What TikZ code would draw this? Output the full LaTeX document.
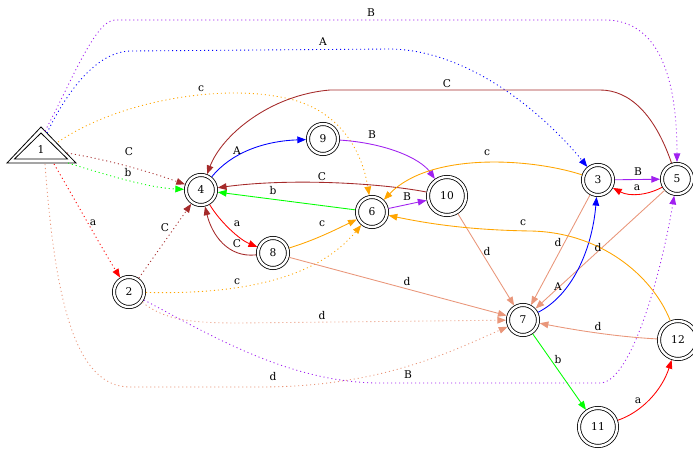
\documentclass[tikz,border=0pt]{standalone}
\usepackage{fontspec}
\setmainfont{DejaVu Serif}
\usetikzlibrary{arrows.meta,calc}
\definecolor{gvpurple}{HTML}{A020F0}
\definecolor{gvorange}{HTML}{FFA500}
\definecolor{gvbrown}{HTML}{A52A2A}
\definecolor{gvgreen}{HTML}{00FF00}
\definecolor{gvred}{HTML}{FF0000}
\definecolor{gvblue}{HTML}{0000FF}
\definecolor{gvsalmon}{HTML}{E9967A}
\begin{document}
\begin{tikzpicture}[x=0.75pt,y=-0.75pt, font=\fontsize{8}{9}\selectfont,
 st/.style={circle, draw, double, double distance=1.8pt, line width=0.6pt, minimum size=22.5pt, inner sep=0pt, outer sep=1.5pt},
 big/.style={minimum size=28.5pt},
 e/.style={line width=0.65pt, -{Triangle[length=6.5pt,width=5pt]}},
 dt/.style={dash pattern=on 0.8pt off 2.2pt},
 lbl/.style={inner sep=0pt, text=black}]
\useasboundingbox (0,0) rectangle (693,452);

% start node (double triangle)
\draw[line width=0.6pt] (41,127) -- (76,163) -- (7,163) -- cycle;
\draw[line width=0.6pt] (41,133) -- (67.5,159) -- (14.5,159) -- cycle;
\node[lbl] (n1) at (41,150) {1};
\coordinate (t1a) at (45,131);
\coordinate (t1b) at (47,133);
\coordinate (t1c) at (58,142);
\coordinate (t1d) at (67,153);
\coordinate (t1e) at (68,163);
\coordinate (t1f) at (54,164);
\coordinate (t1g) at (45,164);

% states
\node[st] (n2) at (129,292) {2};
\node[st] (n3) at (598,180) {3};
\node[st] (n4) at (201,190) {4};
\node[st] (n5) at (677,179) {5};
\node[st] (n6) at (372,212) {6};
\node[st] (n7) at (523,320) {7};
\node[st] (n8) at (273,253) {8};
\node[st] (n9) at (323,139) {9};
\node[st,big] (n10) at (447,196) {10};
\node[st,big] (n11) at (598,427) {11};
\node[st,big] (n12) at (678,340) {12};

% edges from 1
\draw[e,dt,gvpurple] (t1a) .. controls (70,85) and (95,20) .. (115,20) -- (605,20) .. controls (655,20) and (677,70) .. (n5);
\draw[e,dt,gvblue] (t1b) .. controls (65,95) and (95,52) .. (130,51) -- (390,49) .. controls (470,50) and (545,115) .. (n3);
\draw[e,dt,gvorange] (t1c) .. controls (120,100) and (220,85) .. (280,97) .. controls (330,105) and (360,140) .. (n6);
\draw[e,dt,gvbrown] (t1d) .. controls (110,160) and (150,172) .. (n4);
\draw[e,dt,gvgreen] (t1e) .. controls (110,176) and (150,188) .. (n4);
\draw[e,dt,gvred] (t1f) .. controls (75,200) and (100,245) .. (n2);
\draw[e,dt,gvsalmon] (t1g) .. controls (55,300) and (75,387) .. (130,387) -- (260,387) .. controls (380,387) and (450,352) .. (n7);

% edges from 2
\draw[e,dt,gvbrown] (n2) -- (n4);
\draw[e,dt,gvorange] (n2) .. controls (250,295) and (320,275) .. (n6);
\draw[e,dt,gvsalmon] (n2) .. controls (165,320) and (190,323) .. (240,323) -- (n7);
\draw[e,dt,gvpurple] (n2) .. controls (210,335) and (290,383) .. (380,383) -- (600,383) .. controls (630,383) and (660,280) .. (n5);

% solid edges
\draw[e,gvblue] (n4) .. controls (232,152) and (265,141) .. (n9);
\draw[e,gvred] (n4) .. controls (220,222) and (240,240) .. (n8);
\draw[e,gvbrown] (n8) .. controls (228,258) and (212,235) .. (n4);
\draw[e,gvpurple] (n9) .. controls (385,143) and (420,158) .. (n10);
\draw[e,gvbrown] (n10) .. controls (380,183) and (290,178) .. (n4);
\draw[e,gvgreen] (n6) -- (n4);
\draw[e,gvpurple] (n6) -- (n10);
\draw[e,gvorange] (n8) .. controls (315,240) and (335,230) .. (n6);
\draw[e,gvsalmon] (n8) -- (n7);
\draw[e,gvsalmon] (n10) -- (n7);
\draw[e,gvpurple] (n3) -- (n5);
\draw[e,gvred] (n5) .. controls (648,195) and (630,197) .. (n3);
\draw[e,gvorange] (n3) .. controls (530,158) and (430,152) .. (n6);
\draw[e,gvsalmon] (n3) -- (n7);
\draw[e,gvbrown] (n5) .. controls (655,115) and (630,90) .. (600,90) -- (330,90) .. controls (270,95) and (222,135) .. (n4);
\draw[e,gvsalmon] (n5) -- (n7);
\draw[e,gvblue] (n7) .. controls (572,295) and (592,250) .. (n3);
\draw[e,gvgreen] (n7) -- (n11);
\draw[e,gvred] (n11) .. controls (642,412) and (662,390) .. (n12);
\draw[e,gvsalmon] (n12) .. controls (620,337) and (580,331) .. (n7);
\draw[e,gvorange] (n12) .. controls (652,275) and (600,232) .. (530,231) .. controls (470,230) and (430,224) .. (n6);

% labels
\node[lbl] (l1) at (371,13) {B};
\node[lbl] (l2) at (323,42) {A};
\node[lbl] (l3) at (201,89) {c};
\node[lbl] (l4) at (129,152) {C};
\node[lbl] (l5) at (128,173) {b};
\node[lbl] (l6) at (93,223) {a};
\node[lbl] (l7) at (273,377) {d};
\node[lbl] (l8) at (165,228) {C};
\node[lbl] (l9) at (237,282) {c};
\node[lbl] (l10) at (322,316) {d};
\node[lbl] (l11) at (408,375) {B};
\node[lbl] (l12) at (237,151) {A};
\node[lbl] (l13) at (237,224) {a};
\node[lbl] (l14) at (237,244) {C};
\node[lbl] (l15) at (372,135) {B};
\node[lbl] (l16) at (322,177) {C};
\node[lbl] (l17) at (273,191) {b};
\node[lbl] (l18) at (407,197) {B};
\node[lbl] (l19) at (322,224) {c};
\node[lbl] (l20) at (407,282) {d};
\node[lbl] (l21) at (487,252) {d};
\node[lbl] (l22) at (638,172) {B};
\node[lbl] (l23) at (637,188) {a};
\node[lbl] (l24) at (487,153) {c};
\node[lbl] (l25) at (558,243) {d};
\node[lbl] (l26) at (447,84) {C};
\node[lbl] (l27) at (598,248) {d};
\node[lbl] (l28) at (558,287) {A};
\node[lbl] (l29) at (558,360) {b};
\node[lbl] (l30) at (638,401) {a};
\node[lbl] (l31) at (598,327) {d};
\node[lbl] (l32) at (523,223) {c};
\end{tikzpicture}
\end{document}
